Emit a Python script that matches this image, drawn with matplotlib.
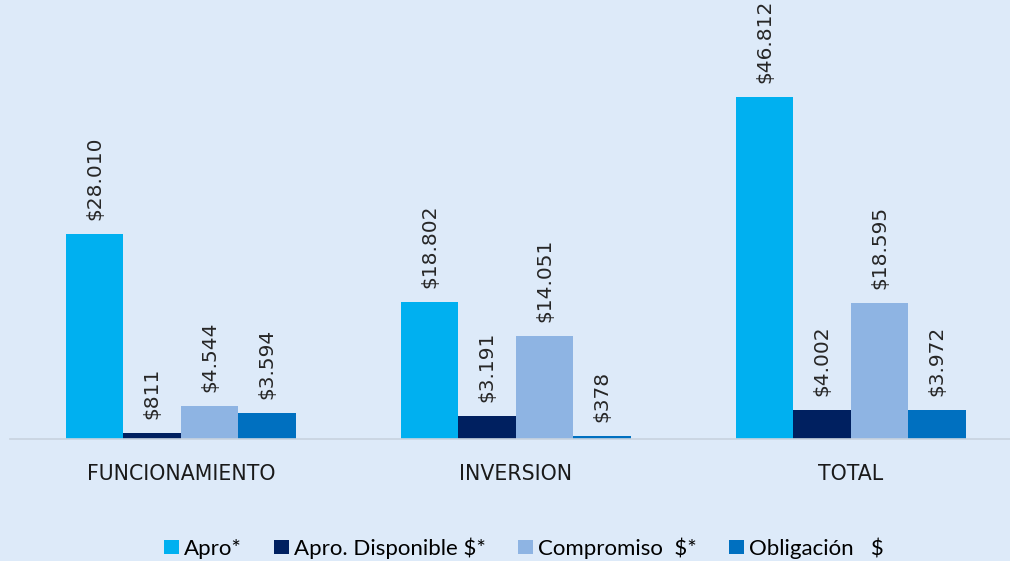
import numpy as np
import matplotlib.pyplot as plt

# DATA
categories = ['FUNCIONAMIENTO', 'INVERSION', 'TOTAL']
series_names = ['Apro*', 'Apro. Disponible $*', 'Compromiso  $*', 'Obligación   $']
apro = [28010, 18802, 46812]
disponible = [811, 3191, 4002]
compromiso = [4544, 14051, 18595]
obligacion = [3594, 378, 3972]
series = [apro, disponible, compromiso, obligacion]
colors = ['#00B0F0', '#002060', '#8EB4E3', '#0070C0']

bg = '#DDEAF9'

def fmt(v):
    return '$' + f'{v:,}'.replace(',', '.')

fig = plt.figure(figsize=(10.1, 5.61), dpi=100, facecolor=bg)
ax = fig.add_axes([0.01, 1 - 439 / 561, 0.99, 439 / 561])
ax.set_facecolor(bg)

x = np.arange(len(categories))
w = 0.1716
for i, (vals, name, c) in enumerate(zip(series, series_names, colors)):
    pos = x + (i - 1.5) * w
    ax.bar(pos, vals, width=w, color=c, label=name)
    for p, v in zip(pos, vals):
        ax.annotate(fmt(v), (p, v), xytext=(0, 10), textcoords='offset points',
                    rotation=90, ha='center', va='bottom', fontsize=14.5,
                    color='#262626')

ax.set_xlim(-0.51, 2.475)
ax.set_ylim(0, 60090)
ax.set_yticks([])
ax.set_xticks(x)
ax.set_xticklabels(categories, fontsize=14.8, color='#1a1a1a')
ax.tick_params(axis='x', length=0, pad=18)
for s in ['top', 'right', 'left']:
    ax.spines[s].set_visible(False)
ax.spines['bottom'].set_color('#C8D3DF')
ax.spines['bottom'].set_linewidth(1.2)

fig.legend(loc='center', bbox_to_anchor=(0.519, 1 - 548 / 561), ncol=4,
           frameon=False, prop={'family': 'Lato', 'size': 16},
           handlelength=0.65, handleheight=0.65, handletextpad=0.25,
           columnspacing=1.45)

fig.savefig('out.png', dpi=100, facecolor=bg)
